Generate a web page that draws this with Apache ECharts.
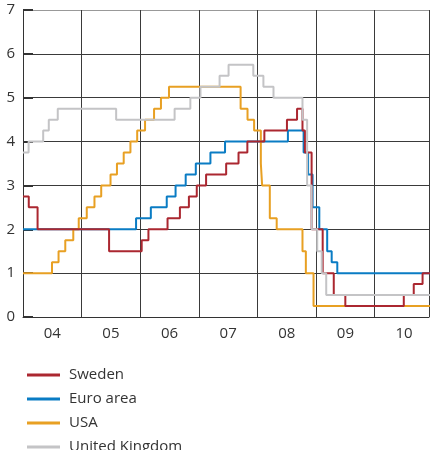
<!DOCTYPE html>
<html>
<head>
<meta charset="utf-8">
<script src="https://cdn.jsdelivr.net/npm/echarts@6/dist/echarts.min.js"></script>
<style>
  html, body { margin: 0; padding: 0; background: #fff; }
  #chart { width: 432px; height: 450px; }
</style>
</head>
<body>
<div id="chart"></div>
<script>
// policy rate change dates and the new rate from each date
var swedenDates = ['2004-01-01', '2004-02-06', '2004-04-01', '2005-06-21', '2006-01-10', '2006-02-21', '2006-06-20', '2006-09-05', '2006-10-31', '2006-12-19', '2007-02-15', '2007-06-20', '2007-09-05', '2007-10-30', '2008-02-13', '2008-07-03', '2008-09-04', '2008-10-08', '2008-10-23', '2008-12-04', '2009-02-11', '2009-04-21', '2009-07-02', '2010-07-01', '2010-09-01', '2010-10-26', '2010-12-31'];
var swedenRates = [2.75, 2.5, 2.0, 1.5, 1.75, 2.0, 2.25, 2.5, 2.75, 3.0, 3.25, 3.5, 3.75, 4.0, 4.25, 4.5, 4.75, 4.25, 3.75, 2.0, 1.0, 0.5, 0.25, 0.5, 0.75, 1.0, 1.0];

var euroDates = ['2004-01-01', '2005-12-06', '2006-03-08', '2006-06-15', '2006-08-09', '2006-10-11', '2006-12-13', '2007-03-14', '2007-06-13', '2008-07-09', '2008-10-15', '2008-11-12', '2008-12-10', '2009-01-21', '2009-03-11', '2009-04-08', '2009-05-13', '2010-12-31'];
var euroRates = [2.0, 2.25, 2.5, 2.75, 3.0, 3.25, 3.5, 3.75, 4.0, 4.25, 3.75, 3.25, 2.5, 2.0, 1.5, 1.25, 1.0, 1.0];

var usaDates = ['2004-01-01', '2004-06-30', '2004-08-10', '2004-09-21', '2004-11-10', '2004-12-14', '2005-02-02', '2005-03-22', '2005-05-03', '2005-06-30', '2005-08-09', '2005-09-20', '2005-11-01', '2005-12-13', '2006-01-31', '2006-03-28', '2006-05-10', '2006-06-29', '2007-09-18', '2007-10-31', '2007-12-11', '2008-01-22', '2008-01-30', '2008-03-18', '2008-04-30', '2008-10-08', '2008-10-29', '2008-12-16', '2010-12-31'];
var usaRates = [1.0, 1.25, 1.5, 1.75, 2.0, 2.25, 2.5, 2.75, 3.0, 3.25, 3.5, 3.75, 4.0, 4.25, 4.5, 4.75, 5.0, 5.25, 4.75, 4.5, 4.25, 3.5, 3.0, 2.25, 2.0, 1.5, 1.0, 0.25, 0.25];

var ukDates = ['2004-01-01', '2004-02-05', '2004-05-06', '2004-06-10', '2004-08-05', '2005-08-04', '2006-08-03', '2006-11-09', '2007-01-11', '2007-05-10', '2007-07-05', '2007-12-06', '2008-02-07', '2008-04-10', '2008-10-08', '2008-11-06', '2008-12-04', '2009-01-08', '2009-02-05', '2009-03-05', '2010-12-31'];
var ukRates = [3.75, 4.0, 4.25, 4.5, 4.75, 4.5, 4.75, 5.0, 5.25, 5.5, 5.75, 5.5, 5.25, 5.0, 4.5, 3.0, 2.0, 1.5, 1.0, 0.5, 0.5];

var seriesNames = ['Sweden', 'Euro area', 'USA', 'United Kingdom'];
var yearLabels = ['04', '05', '06', '07', '08', '09', '10'];
var yTicks = [0, 1, 2, 3, 4, 5, 6, 7];

var X_MIN = 2004, X_MAX = 2010.926;
var font = '"Open Sans", "Noto Sans", sans-serif';

// 'YYYY-MM-DD' -> decimal year
function toYear(s) {
    var p = s.split('-');
    var y = +p[0];
    var start = Date.UTC(y, 0, 1), end = Date.UTC(y + 1, 0, 1);
    return y + (Date.UTC(y, +p[1] - 1, +p[2]) - start) / (end - start);
}
function pairs(dates, rates) {
    return dates.map(function (d, i) { return [toYear(d), rates[i]]; });
}

var chart = echarts.init(document.getElementById('chart'));

function stepSeries(name, dates, rates, color, z) {
    return {
        name: name,
        type: 'line',
        step: 'end',
        xAxisIndex: 0,
        showSymbol: false,
        symbol: 'none',
        z: z,
        lineStyle: { color: color, width: 2 },
        itemStyle: { color: color },
        data: pairs(dates, rates)
    };
}

// one legend per row so the list never wraps into columns
var legends = seriesNames.map(function (name, i) {
    return {
        data: [name],
        left: 22,
        top: 361 + i * 24,
        icon: 'rect',
        itemWidth: 33,
        itemHeight: 3,
        textStyle: { fontSize: 15, color: '#333', lineHeight: 18, fontFamily: font, padding: [0, 0, 0, 4] }
    };
});

chart.setOption({
    animation: false,
    textStyle: { fontFamily: font },
    grid: { left: 23, right: 0, top: 10, height: 307 },
    legend: legends,
    xAxis: [{
        type: 'value',
        min: X_MIN,
        max: X_MAX,
        interval: 1,
        axisLine: { show: true, lineStyle: { color: '#333', width: 1 } },
        axisTick: { show: false },
        axisLabel: { show: false },
        splitLine: { show: true, lineStyle: { color: '#3a3a3a', width: 1 } }
    }, {
        type: 'value',
        position: 'bottom',
        min: X_MIN,
        max: X_MAX,
        interval: 0.5,
        axisLine: { show: false },
        axisTick: { show: false },
        splitLine: { show: false },
        axisLabel: {
            margin: 9,
            fontSize: 15,
            color: '#333',
            fontFamily: font,
            formatter: function (v) {
                var i = Math.floor(v) - X_MIN;
                if (Math.abs(v - Math.floor(v) - 0.5) < 1e-6 && yearLabels[i]) return yearLabels[i];
                return '';
            }
        }
    }],
    yAxis: {
        type: 'value',
        min: yTicks[0],
        max: yTicks[yTicks.length - 1],
        interval: 1,
        axisLine: { show: true, lineStyle: { color: '#333', width: 1 } },
        axisTick: { show: true, inside: true, length: 10, lineStyle: { color: '#333', width: 2 } },
        axisLabel: { margin: 8, fontSize: 15, color: '#333', fontFamily: font },
        splitLine: {
            show: true,
            lineStyle: { color: ['#3a3a3a', '#3a3a3a', '#3a3a3a', '#3a3a3a', '#3a3a3a', '#3a3a3a', '#3a3a3a', '#999'], width: 1 }
        }
    },
    series: [
        stepSeries(seriesNames[0], swedenDates, swedenRates, '#ab2730', 4),
        stepSeries(seriesNames[1], euroDates, euroRates, '#0a7cc4', 2),
        stepSeries(seriesNames[2], usaDates, usaRates, '#e8a023', 3),
        stepSeries(seriesNames[3], ukDates, ukRates, '#c4c4c6', 5)
    ]
});
</script>
</body>
</html>
